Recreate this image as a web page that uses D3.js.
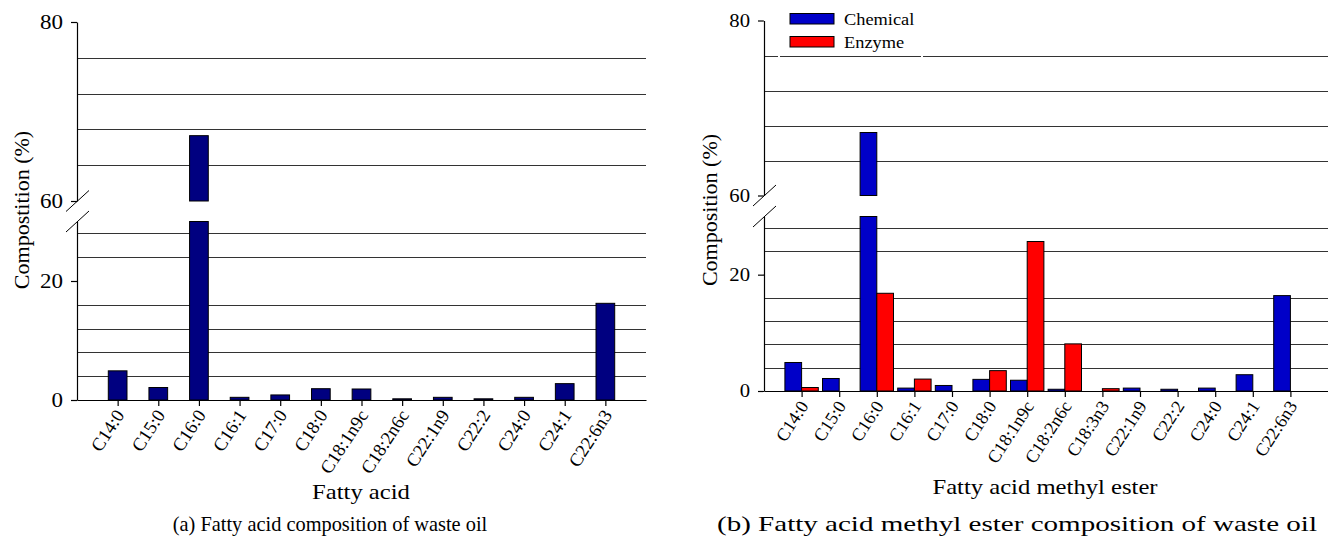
<!DOCTYPE html>
<meta charset="utf-8">
<style>
body { margin: 0; background: #fff; }
svg, svg text { font-family: "Liberation Serif", "Times New Roman", Times, serif; }
.grid line { stroke: #333; stroke-width: 1; }
.axis path, .axis line { stroke: #000; stroke-width: 1.2; }
.bar { stroke: #000; stroke-width: 1; }
</style>
<body>
<script src="https://d3js.org/d3.v7.min.js"></script>
<script>

// ---- data ----
var acidNames = ["C14:0", "C15:0", "C16:0", "C16:1", "C17:0", "C18:0", "C18:1n9c",
                 "C18:2n6c", "C22:1n9", "C22:2", "C24:0", "C24:1", "C22:6n3"];
var acidValues = [4.9, 2.1, 67.3, 0.45, 0.85, 1.9, 1.85, 0.2, 0.45, 0.2, 0.45, 2.75, 16.25];

var esterNames = ["C14:0", "C15:0", "C16:0", "C16:1", "C17:0", "C18:0", "C18:1n9c",
                  "C18:2n6c", "C18:3n3", "C22:1n9", "C22:2", "C24:0", "C24:1", "C22:6n3"];
var chemicalValues = [4.9, 2.15, 67.2, 0.5, 0.95, 2.0, 1.85, 0.3, 0, 0.5, 0.3, 0.5, 2.8, 16.4];
var enzymeValues   = [0.6, 0, 16.8, 2.05, 0, 3.5, 25.7, 8.1, 0.4, 0, 0, 0, 0, 0];

var seriesNames = ["Chemical", "Enzyme"];
var seriesColors = ["#0000c8", "#ff0000"];

// broken y axis: lower part 0-30, upper part 60-80
var lowDomain = [0, 30], highDomain = [60, 80];
var lowTicks = [0, 20], highTicks = [60, 80];
var lowGrid = [4, 8, 12, 16, 24, 28], highGrid = [64, 68, 72, 76];

var svg = d3.select("body").append("svg")
    .attr("width", 1328)
    .attr("height", 540);

// stretch a text along its baseline (the source figure uses a wide serif)
function widen(sel, k) {
  sel.each(function() {
    var w = this.getComputedTextLength();
    d3.select(this).attr("textLength", w * k).attr("lengthAdjust", "spacingAndGlyphs");
  });
}

// draws one panel with a broken y axis
function drawPanel(p) {
  var g = svg.append("g");
  var n = p.names.length;

  var x = d3.scaleLinear().domain([0, n + 1]).range([p.left, p.right]);
  var yLow = d3.scaleLinear().domain(lowDomain).range([p.low0, p.low1]);
  var yHigh = d3.scaleLinear().domain(highDomain).range([p.high0, p.high1]);
  var step = x(1) - x(0);

  // gridlines
  g.append("g").attr("class", "grid")
    .selectAll("line").data(lowGrid).enter().append("line")
      .attr("x1", p.left).attr("x2", p.right)
      .attr("y1", function(d) { return Math.round(yLow(d)) + 0.5; })
      .attr("y2", function(d) { return Math.round(yLow(d)) + 0.5; });
  g.append("g").attr("class", "grid")
    .selectAll("line").data(highGrid).enter().append("line")
      .attr("x1", p.left).attr("x2", p.right)
      .attr("y1", function(d) { return Math.round(yHigh(d)) + 0.5; })
      .attr("y2", function(d) { return Math.round(yHigh(d)) + 0.5; });

  // bars
  var nS = p.series.length;
  var bw = step * p.barFrac;
  p.series.forEach(function(vals, s) {
    vals.forEach(function(v, i) {
      if (v <= 0) return;
      var bx = x(i + 1) - bw * nS / 2 + s * bw;
      var top = Math.min(v, lowDomain[1]);
      g.append("rect").attr("class", "bar")
        .attr("x", bx).attr("width", bw)
        .attr("y", yLow(top)).attr("height", yLow(0) - yLow(top))
        .attr("fill", p.colors[s]);
      if (v > highDomain[0]) {
        g.append("rect").attr("class", "bar")
          .attr("x", bx).attr("width", bw)
          .attr("y", yHigh(v)).attr("height", yHigh(highDomain[0]) - yHigh(v))
          .attr("fill", p.colors[s]);
      }
    });
  });

  // x axis
  var xAxis = d3.axisBottom(x)
      .tickValues(d3.range(1, n + 1))
      .tickFormat(function(d) { return p.names[d - 1]; })
      .tickSize(6).tickSizeOuter(0);
  var xg = g.append("g").attr("class", "axis")
      .attr("transform", "translate(0," + p.low0 + ")")
      .call(xAxis);
  xg.attr("font-family", null).attr("font-size", null);
  xg.selectAll("text")
      .style("font-size", p.xFont + "px")
      .attr("fill", "#000")
      .attr("text-anchor", "end")
      .attr("dy", null).attr("y", 0)
      .attr("transform", "translate(7,15) rotate(-57)");

  // y axis, two pieces
  var yg1 = g.append("g").attr("class", "axis")
      .attr("transform", "translate(" + p.left + ",0)")
      .call(d3.axisLeft(yLow).tickValues(lowTicks).tickSize(6).tickSizeOuter(0));
  var yg2 = g.append("g").attr("class", "axis")
      .attr("transform", "translate(" + p.left + ",0)")
      .call(d3.axisLeft(yHigh).tickValues(highTicks).tickSize(6).tickSizeOuter(0));
  [yg1, yg2].forEach(function(a) {
    a.attr("font-family", null).attr("font-size", null);
    a.selectAll("text").style("font-size", p.yFont + "px")
      .attr("fill", "#000").attr("x", -14);
    widen(a.selectAll("text"), 1.15);
  });

  // break marks
  [p.high0, p.low1].forEach(function(yy) {
    g.append("line")
      .attr("x1", p.left - 11).attr("y1", yy + 10.5)
      .attr("x2", p.left + 12).attr("y2", yy - 10.5)
      .attr("stroke", "#000").attr("stroke-width", 1);
  });

  // axis titles
  g.append("text")
      .attr("transform", "translate(" + p.yTitleX + "," + p.yTitleY + ") rotate(-90)")
      .attr("text-anchor", "middle")
      .style("font-size", "22px")
      .text(p.yTitle);
  var xt = g.append("text")
      .attr("x", p.xTitleX).attr("y", p.xTitleY)
      .attr("text-anchor", "middle")
      .style("font-size", "22px")
      .text(p.xTitle);
  widen(xt, 1.12);
  var cap = g.append("text")
      .attr("x", p.capX).attr("y", p.capY)
      .attr("text-anchor", "middle")
      .style("font-size", p.capFont + "px")
      .text(p.caption);
  widen(cap, p.capStretch);

  return g;
}

drawPanel({
  names: acidNames, series: [acidValues], colors: ["#000080"],
  left: 77, right: 646, low0: 400, low1: 221.5, high0: 201, high1: 22,
  barFrac: 0.46, xFont: 18.5, yFont: 20, capFont: 21, capStretch: 0.97,
  yTitle: "Compostition (%)", yTitleX: 29, yTitleY: 210,
  xTitle: "Fatty acid", xTitleX: 361, xTitleY: 499,
  caption: "(a) Fatty acid composition of waste oil", capX: 330, capY: 531
});

var right = drawPanel({
  names: esterNames, series: [chemicalValues, enzymeValues], colors: seriesColors,
  left: 764, right: 1328, low0: 391, low1: 216.5, high0: 195.5, high1: 20.5,
  barFrac: 0.444, xFont: 18, yFont: 18, capFont: 22, capStretch: 1.32,
  yTitle: "Composition (%)", yTitleX: 717, yTitleY: 210,
  xTitle: "Fatty acid methyl ester", xTitleX: 1045, xTitleY: 494,
  caption: "(b) Fatty acid methyl ester composition of waste oil", capX: 1017, capY: 531
});

// legend
var legend = right.append("g");
legend.append("rect")
    .attr("x", 779).attr("y", 1).attr("width", 143).attr("height", 70)
    .attr("fill", "none").attr("stroke", "#fff").attr("stroke-width", 2);
seriesNames.forEach(function(name, i) {
  legend.append("rect")
      .attr("x", 790).attr("y", 13.5 + i * 23).attr("width", 44).attr("height", 10.5)
      .attr("fill", seriesColors[i]).attr("stroke", "#000").attr("stroke-width", 1);
  var t = legend.append("text")
      .attr("x", 844).attr("y", 25 + i * 23)
      .style("font-size", "17px")
      .text(name);
  widen(t, 1.08);
});

</script>
</body>
